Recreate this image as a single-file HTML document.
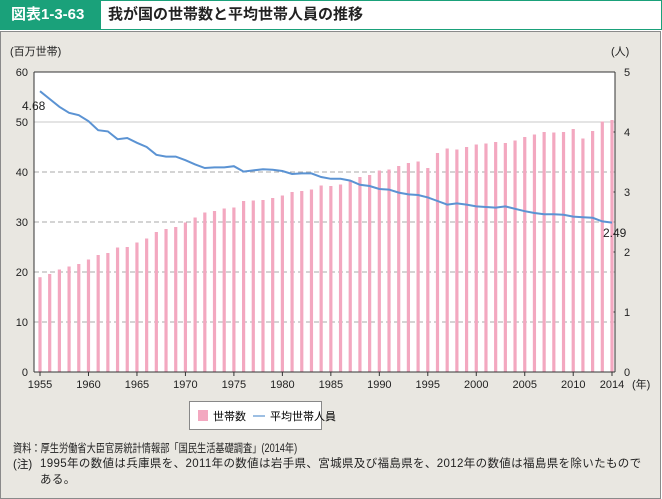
<!DOCTYPE html>
<html><head><meta charset="utf-8"><style>
body{margin:0;width:662px;height:499px;overflow:hidden;background:#fff;font-family:"Liberation Sans","Noto Sans CJK JP",sans-serif}
#panel{position:absolute;left:0;top:31px;width:659px;height:466px;background:#e9e7e1;border:1px solid #8a8a8a}
#hdr{position:absolute;left:0;top:0;width:660px;height:28px;border:1px solid #1aa17a;background:#fff}
#hdr .tag{position:absolute;left:0;top:0;width:100px;height:28px;background:#1aa17a;color:#fff;font-weight:bold;font-size:15px;line-height:28px;padding-left:10px;box-sizing:border-box}
#hdr .tt{position:absolute;left:107px;top:0;line-height:28px;font-size:15px;font-weight:bold;color:#222}
.ft{position:absolute;font-size:11.5px;color:#222;white-space:nowrap}
</style></head><body>
<div id="hdr"><div class="tag">図表1-3-63</div><div class="tt">我が国の世帯数と平均世帯人員の推移</div></div>
<div id="panel"></div>
<svg id="chart" width="662" height="499" style="position:absolute;left:0;top:0"></svg>
<div style="position:absolute;left:189px;top:401px;width:133px;height:29px;background:#fff;border:1px solid #888;box-sizing:border-box;white-space:nowrap">
<div style="position:absolute;left:8px;top:8px;width:10px;height:11px;background:#f3a8c0"></div>
<div style="position:absolute;left:23px;top:6px;font-size:11px">世帯数</div>
<div style="position:absolute;left:63px;top:13px;width:12px;height:2px;background:#9dbfe3"></div>
<div style="position:absolute;left:80px;top:6px;font-size:11px">平均世帯人員</div>
</div>
<div class="ft" style="left:13px;top:440px;transform:scaleX(0.8);transform-origin:0 0">資料：厚生労働省大臣官房統計情報部「国民生活基礎調査」(2014年)</div>
<div class="ft" style="left:13px;top:456px">(注)</div>
<div class="ft" style="left:40px;top:456px;line-height:16px;font-size:11.5px;letter-spacing:0.35px">1995年の数値は兵庫県を、2011年の数値は岩手県、宮城県及び福島県を、2012年の数値は福島県を除いたもので<br>ある。</div>
<script>
const years=[];for(let y=1955;y<=2014;y++)years.push(y);
const households=[18.96,19.6,20.5,21.1,21.6,22.5,23.4,23.8,24.9,25.0,25.9,26.7,28.0,28.6,29.0,29.9,30.9,31.9,32.2,32.7,32.9,34.2,34.3,34.4,34.8,35.3,36.0,36.2,36.5,37.3,37.2,37.5,38.1,39.0,39.4,40.3,40.5,41.2,41.8,42.1,40.8,43.8,44.7,44.5,45.0,45.5,45.7,46.0,45.8,46.3,47.0,47.5,48.0,47.9,48.0,48.6,46.7,48.2,50.1,50.4];
const avgMembers=[4.68,4.55,4.42,4.32,4.28,4.18,4.03,4.01,3.88,3.90,3.82,3.75,3.62,3.59,3.59,3.53,3.46,3.40,3.41,3.41,3.43,3.34,3.36,3.38,3.37,3.35,3.30,3.31,3.31,3.25,3.22,3.22,3.19,3.12,3.10,3.05,3.04,2.99,2.96,2.95,2.91,2.85,2.79,2.81,2.79,2.76,2.75,2.74,2.76,2.72,2.68,2.65,2.63,2.63,2.62,2.59,2.58,2.57,2.51,2.49];
const leftTicks=[0,10,20,30,40,50,60];
const rightTicks=[0,1,2,3,4,5];
const xTicks=[1955,1960,1965,1970,1975,1980,1985,1990,1995,2000,2005,2010,2014];
const L=34,R=615,T=72,B=372;
const x=y=>40+(y-1955)*(612-40)/59;
const yl=v=>B-(v/60)*(B-T);
const yr=v=>B-(v/5)*(B-T);
const svg=document.getElementById('chart');const NS='http://www.w3.org/2000/svg';
function mk(t,a,p){const e=document.createElementNS(NS,t);for(const k in a)e.setAttribute(k,a[k]);(p||svg).appendChild(e);return e;}
const plot=mk('rect',{x:L,y:T,width:R-L,height:B-T,fill:'#fff'});


leftTicks.forEach(v=>{
 if(v>0&&v<60){const g=mk('line',{x1:L,x2:R,y1:yl(v),y2:yl(v),stroke:v==50?'#c8c8c8':'#aaa','stroke-width':1,'stroke-dasharray':v==50?'':'5,3'});
 
 }
 const t=mk('text',{x:L-6,y:yl(v)+4,'text-anchor':'end','font-size':11,fill:'#222'});t.textContent=v;
 
 
});
rightTicks.forEach(v=>{
 mk('line',{x1:R,x2:R-4,y1:yr(v),y2:yr(v),stroke:'#333'});
 const t=mk('text',{x:R+9,y:yr(v)+4,'font-size':11,fill:'#222'});t.textContent=v;
 
 
});
years.forEach((y,i)=>{
 const b=mk('rect',{x:x(y)-1.6,y:yl(households[i]),width:3.2,height:B-yl(households[i]),fill:'#f3a8c0'});
 
 
});
const ln=mk('polyline',{points:years.map((y,i)=>x(y)+','+yr(avgMembers[i])).join(' '),fill:'none',stroke:'#5b93d3','stroke-width':2});


mk('line',{x1:L,x2:L,y1:T,y2:B,stroke:'#333'});
mk('line',{x1:R,x2:R,y1:T,y2:B,stroke:'#333'});
mk('line',{x1:L,x2:R,y1:T,y2:T,stroke:'#333'});
mk('line',{x1:L,x2:R,y1:B,y2:B,stroke:'#333'});
xTicks.forEach(y=>{
 mk('line',{x1:x(y),x2:x(y),y1:B,y2:B+4,stroke:'#333'});
 const t=mk('text',{x:x(y),y:B+16,'text-anchor':'middle','font-size':11,fill:'#222'});t.textContent=y;
 
 
});
function lab(s,a,n){const t=mk('text',Object.assign({'font-size':11,fill:'#222'},a));t.textContent=s;
 
 }
lab('(百万世帯)',{x:10,y:55},'left-axis-unit');
lab('(人)',{x:611,y:55},'right-axis-unit');
lab('(年)',{x:632,y:388},'x-axis-unit');
lab('4.68',{x:22,y:110,'font-size':12},'label-first-value');
lab('2.49',{x:603,y:237,'font-size':12},'label-last-value');
</script>
</body></html>
